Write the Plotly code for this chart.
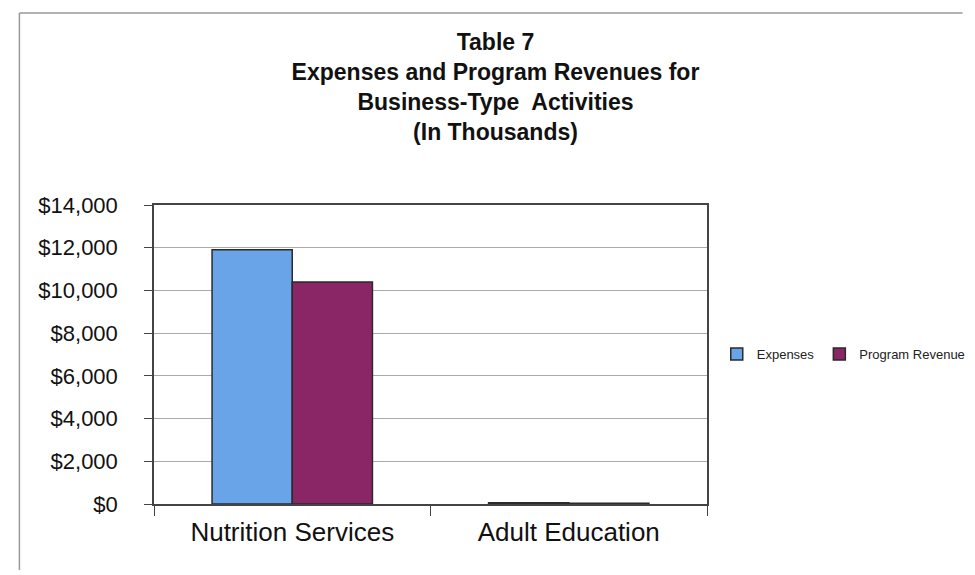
import plotly.graph_objects as go

categories = ["Nutrition Services", "Adult Education"]
expenses = [11900, 60]
program_revenue = [10400, 40]
y_ticks = [0, 2000, 4000, 6000, 8000, 10000, 12000, 14000]
y_tick_labels = ["$0", "$2,000", "$4,000", "$6,000", "$8,000", "$10,000", "$12,000", "$14,000"]
series_names = ["Expenses", "Program Revenue"]
title_lines = ["Table 7", "Expenses and Program Revenues for", "Business-Type  Activities", "(In Thousands)"]

W, H = 975, 575
L, R, T, B = 146, 713, 197, 496

fig = go.Figure()
fig.add_trace(go.Bar(x=categories, y=expenses, name=series_names[0],
                     marker=dict(color="#6AA4E8", line=dict(color="#2a2a2a", width=1.5))))
fig.add_trace(go.Bar(x=categories, y=program_revenue, name=series_names[1],
                     marker=dict(color="#8A2666", line=dict(color="#2a2a2a", width=1.5))))

pw, ph = R - L, B - T
def px(x):
    return (x - L) / pw
def py(y):
    return 1 - (y - T) / ph

fig.update_layout(
    width=W, height=H,
    margin=dict(l=L, r=W - R, t=T, b=H - B),
    paper_bgcolor="white", plot_bgcolor="white",
    font=dict(family="Liberation Sans, Arial, sans-serif", color="#111"),
    barmode="group", bargap=0.42, bargroupgap=0,
    title=dict(text="<br>".join("<b>%s</b>" % t for t in title_lines),
               x=0.5, xref="container", xanchor="center",
               y=1 - 42 / H, yref="container", yanchor="top",
               font=dict(family="Liberation Sans, Arial", size=23, color="#111")),
    legend=dict(orientation="h", x=px(723), y=py(346), xanchor="left", yanchor="middle",
                font=dict(size=13, color="#222"), itemwidth=30, tracegroupgap=0,
                bgcolor="rgba(0,0,0,0)"),
    showlegend=True,
)
fig.update_yaxes(range=[0, 14000], tickvals=y_ticks, ticktext=y_tick_labels,
                 showgrid=True, gridcolor="#aaaaaa", gridwidth=1,
                 showline=True, linecolor="#444", linewidth=1.5, mirror=True,
                 ticks="outside", ticklen=8, tickcolor="#444", ticklabelstandoff=22,
                 tickfont=dict(size=22, color="#111"), zeroline=False)
fig.update_xaxes(showline=True, linecolor="#444", linewidth=1.5, mirror=True,
                 ticks="outside", tickson="boundaries", ticklen=10, tickcolor="#444",
                 tickfont=dict(size=26, color="#111"), ticklabelstandoff=4)

# outer chart border (top and left)
fig.add_shape(type="line", xref="paper", yref="paper", x0=px(8), x1=px(975), y0=py(5), y1=py(5),
              line=dict(color="#999", width=1.5))
fig.add_shape(type="line", xref="paper", yref="paper", x0=px(8), x1=px(8), y0=py(5), y1=py(562),
              line=dict(color="#999", width=1.5))

fig.write_html("out.html")
